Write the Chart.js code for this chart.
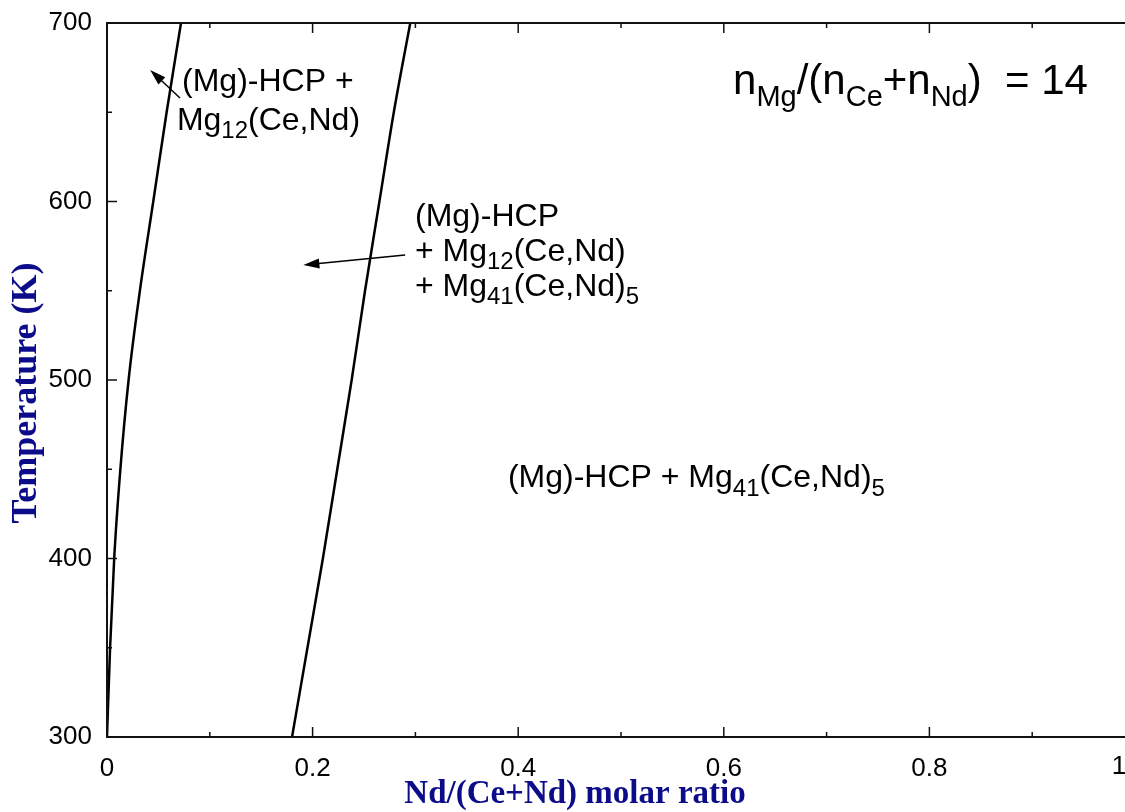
<!DOCTYPE html>
<html>
<head>
<meta charset="utf-8">
<title>Nd/(Ce+Nd) molar ratio - phase boundaries</title>
<script src="https://cdn.jsdelivr.net/npm/chart.js@4.4.1/dist/chart.umd.min.js"></script>
<style>
  html, body { margin: 0; padding: 0; background: #fff; overflow: hidden; }
  #wrap { width: 1160px; height: 812px; }
</style>
</head>
<body>
<div id="wrap"><canvas id="phaseChart" width="1160" height="812"></canvas></div>
<script>
// Data (temperature in K, Nd/(Ce+Nd) molar ratio)
const temperatureK  = [300, 350, 400, 450, 500, 550, 600, 650, 700];
const leftBoundary  = [0.000, 0.003, 0.007, 0.013, 0.021, 0.032, 0.045, 0.058, 0.072];
const rightBoundary = [0.180, 0.195, 0.210, 0.224, 0.238, 0.251, 0.265, 0.279, 0.295];

// Axis ticks
const xTickValues  = [0, 0.2, 0.4, 0.6, 0.8, 1];
const xMinorValues = [0.1, 0.3, 0.5, 0.7, 0.9];
const yTickValues  = [300, 400, 500, 600, 700];
const yMinorValues = [350, 450, 550, 650];

const xTitle = 'Nd/(Ce+Nd) molar ratio';
const yTitle = 'Temperature (K)';

// Phase labels: anchor in data units (x ratio, T), text parts [text, isSubscript]
const phaseLabels = [
  { x: 0.073, t: 662.0, parts: [['(Mg)-HCP +', false]] },
  { x: 0.068, t: 640.2, parts: [['Mg', false], ['12', true], ['(Ce,Nd)', false]] },
  { x: 0.2996, t: 586.5, parts: [['(Mg)-HCP', false]] },
  { x: 0.2996, t: 566.8, parts: [['+ Mg', false], ['12', true], ['(Ce,Nd)', false]] },
  { x: 0.2996, t: 547.2, parts: [['+ Mg', false], ['41', true], ['(Ce,Nd)', false], ['5', true]] },
  { x: 0.390, t: 440.0, parts: [['(Mg)-HCP + Mg', false], ['41', true], ['(Ce,Nd)', false], ['5', true]] }
];
const ratioLabel = { x: 0.609, t: 660.0,
  parts: [['n', false], ['Mg', true], ['/(n', false], ['Ce', true], ['+n', false], ['Nd', true], [')  = 14', false]] };

// Arrows: from tail to head, data units
const arrows = [
  { x0: 0.071, t0: 658.0, x1: 0.042, t1: 673.7 },
  { x0: 0.290, t0: 570.0, x1: 0.191, t1: 564.4 }
];

const NAVY = '#0c0c8a';
const SANS = '"Liberation Sans", Arial, sans-serif';
const SERIF = '"Liberation Serif", "Times New Roman", serif';

function toPoints(xs) {
  return temperatureK.map((t, i) => ({ x: xs[i], y: t }));
}

function drawRich(ctx, parts, x, y, size, subSize) {
  let cx = x;
  ctx.textAlign = 'left';
  ctx.textBaseline = 'alphabetic';
  for (const [txt, sub] of parts) {
    ctx.font = `${sub ? subSize : size}px ${SANS}`;
    ctx.fillText(txt, cx, sub ? y + size * 0.27 : y);
    cx += ctx.measureText(txt).width;
  }
}

const framePlugin = {
  id: 'framePlugin',
  afterDraw(chart) {
    const { ctx, chartArea: a, scales } = chart;
    const xs = scales.x, ys = scales.y;
    ctx.save();
    ctx.strokeStyle = '#111';
    ctx.lineWidth = 2;
    ctx.strokeRect(a.left, a.top, a.right - a.left, a.bottom - a.top);

    // inward ticks on all four sides
    const tick = (vals, len, isX) => {
      vals.forEach(v => {
        ctx.beginPath();
        if (isX) {
          const px = xs.getPixelForValue(v);
          ctx.moveTo(px, a.bottom); ctx.lineTo(px, a.bottom - len);
          ctx.moveTo(px, a.top); ctx.lineTo(px, a.top + len);
        } else {
          const py = ys.getPixelForValue(v);
          ctx.moveTo(a.left, py); ctx.lineTo(a.left + len, py);
          ctx.moveTo(a.right, py); ctx.lineTo(a.right - len, py);
        }
        ctx.stroke();
      });
    };
    ctx.lineWidth = 1.5;
    tick(xTickValues, 10, true);
    tick(xMinorValues, 5, true);
    tick(yTickValues, 10, false);
    tick(yMinorValues, 5, false);

    // last x label sits at the cut edge of the figure
    ctx.fillStyle = '#000';
    ctx.font = `26px ${SANS}`;
    ctx.textAlign = 'center';
    ctx.textBaseline = 'middle';
    ctx.fillText('1', xs.getPixelForValue(1) - 16, a.bottom + 30);

    // phase labels
    phaseLabels.forEach(l => {
      drawRich(ctx, l.parts, xs.getPixelForValue(l.x), ys.getPixelForValue(l.t), 32, 24);
    });
    drawRich(ctx, ratioLabel.parts, xs.getPixelForValue(ratioLabel.x), ys.getPixelForValue(ratioLabel.t), 42, 29);

    // arrows
    ctx.strokeStyle = '#000';
    ctx.lineWidth = 1.5;
    arrows.forEach(ar => {
      const x0 = xs.getPixelForValue(ar.x0), y0 = ys.getPixelForValue(ar.t0);
      const x1 = xs.getPixelForValue(ar.x1), y1 = ys.getPixelForValue(ar.t1);
      const ang = Math.atan2(y1 - y0, x1 - x0);
      const hl = 16, hw = 5;
      ctx.beginPath();
      ctx.moveTo(x0, y0);
      ctx.lineTo(x1 - hl * 0.8 * Math.cos(ang), y1 - hl * 0.8 * Math.sin(ang));
      ctx.stroke();
      ctx.beginPath();
      ctx.moveTo(x1, y1);
      ctx.lineTo(x1 - hl * Math.cos(ang) + hw * Math.sin(ang), y1 - hl * Math.sin(ang) - hw * Math.cos(ang));
      ctx.lineTo(x1 - hl * Math.cos(ang) - hw * Math.sin(ang), y1 - hl * Math.sin(ang) + hw * Math.cos(ang));
      ctx.closePath();
      ctx.fill();
    });

    // axis titles
    ctx.fillStyle = NAVY;
    ctx.textAlign = 'center';
    ctx.textBaseline = 'alphabetic';
    ctx.font = `bold 33px ${SERIF}`;
    ctx.fillText(xTitle, 575, 803);
    ctx.font = `bold 36px ${SERIF}`;
    ctx.translate(36, 393);
    ctx.rotate(-Math.PI / 2);
    ctx.fillText(yTitle, 0, 0);
    ctx.restore();
  }
};

const ctx = document.getElementById('phaseChart').getContext('2d');
new Chart(ctx, {
  type: 'line',
  data: {
    datasets: [{
      data: toPoints(leftBoundary),
      borderColor: '#000',
      borderWidth: 2.5,
      pointRadius: 0,
      fill: false,
      cubicInterpolationMode: 'monotone'
    }, {
      data: toPoints(rightBoundary),
      borderColor: '#000',
      borderWidth: 2.5,
      pointRadius: 0,
      fill: false,
      cubicInterpolationMode: 'monotone'
    }]
  },
  options: {
    responsive: false,
    devicePixelRatio: 1,
    animation: false,
    layout: { padding: { left: 0, top: 23, right: 25, bottom: 0 } },
    plugins: { legend: { display: false }, tooltip: { enabled: false } },
    scales: {
      x: {
        type: 'linear',
        min: 0,
        max: 1,
        grid: { display: false, drawTicks: false },
        border: { display: false },
        afterBuildTicks: s => { s.ticks = xTickValues.map(v => ({ value: v })); },
        afterFit: s => { s.height = 75; },
        ticks: {
          padding: 16,
          color: '#000',
          maxRotation: 0,
          autoSkip: false,
          font: { family: SANS, size: 26 },
          callback: v => (v === 1 ? '' : String(Math.round(v * 10) / 10))
        }
      },
      y: {
        type: 'linear',
        min: 300,
        max: 700,
        grid: { display: false, drawTicks: false },
        border: { display: false },
        afterBuildTicks: s => { s.ticks = yTickValues.map(v => ({ value: v })); },
        afterFit: s => { s.width = 107; },
        ticks: {
          padding: 15,
          color: '#000',
          font: { family: SANS, size: 26, lineHeight: 0.5 }
        }
      }
    }
  },
  plugins: [framePlugin]
});
</script>
</body>
</html>
